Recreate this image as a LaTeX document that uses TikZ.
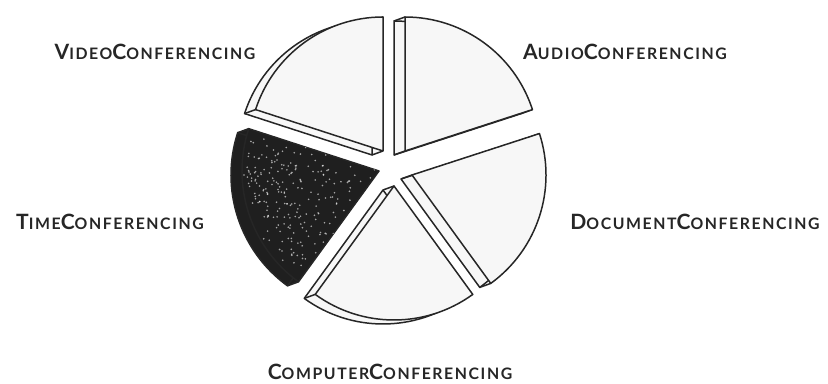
\documentclass[tikz,border=0pt]{standalone}
\usepackage{fontspec}
\setmainfont{Lato}
\usepackage{tikz}
\usetikzlibrary{positioning}

% small caps by hand: big first letter, rest smaller
\newcommand{\capword}[2]{{\fontsize{12}{13}\selectfont #1}{\fontsize{9}{11}\selectfont #2}}

% one slab of the pie: apex x, apex y, start angle, end angle, radius, style
\newcommand{\pieslice}[6]{%
    \foreach \t in {1,0.9,...,0}{
        \fill[#6, draw=none, shift={({-11*\t},{-4*\t})}] (#1,#2) -- ++(#3:#5)
            arc[start angle=#3, end angle=#4, radius=#5] -- cycle;
    }
    \draw[outline, shift={(-11,-4)}] (#1,#2) -- ++(#3:#5)
        arc[start angle=#3, end angle=#4, radius=#5] -- cycle;
    \draw[outline] (#1,#2) -- ++(-11,-4);
    \draw[outline] (#1,#2) ++(#3:#5) -- ++(-11,-4);
    \draw[outline] (#1,#2) ++(#4:#5) -- ++(-11,-4);
    \draw[#6] (#1,#2) -- ++(#3:#5)
        arc[start angle=#3, end angle=#4, radius=#5] -- cycle;
}

\begin{document}
\begin{tikzpicture}[
    x=0.02cm,
    y=0.02cm,
    line join=round,
    outline/.style={draw=black!85, line width=0.85pt},
    face/.style={outline, fill=black!3},
    darkface/.style={outline, fill=black!88},
    sliceLabel/.style={font=\bfseries\addfontfeatures{LetterSpace=10}, text=black!85, inner sep=0pt}
]
\useasboundingbox (0,0) rectangle (828,384);

% Slabs (apex at the face, 72 degrees each)
\pieslice{405}{233}{18}{90}{134}{face}
\pieslice{383}{233}{90}{162}{134}{face}
\pieslice{379}{213}{162}{234}{137}{darkface}
\pieslice{394}{198}{234}{306}{134}{face}
\pieslice{412}{209}{-54}{18}{134}{face}

% speckles on the dark slab
\begin{scope}[shift={(379,213)}]
    \clip (0,0) -- (162:137) arc[start angle=162, end angle=234, radius=137] -- cycle;
    \pgfmathsetseed{7}
    \foreach \i in {1,...,260}{
        \fill[white, opacity=0.6] ({162+72*rnd}:{137*sqrt(rnd)}) circle (0.9);
    }
\end{scope}

% Labels
\node[sliceLabel] (video) at (155,332) {\capword{V}{IDEO}\capword{C}{ONFERENCING}};
\node[sliceLabel] (audio) at (625,332) {\capword{A}{UDIO}\capword{C}{ONFERENCING}};
\node[sliceLabel] (time) at (110,162) {\capword{T}{IME}\capword{C}{ONFERENCING}};
\node[sliceLabel] (document) at (695,162) {\capword{D}{OCUMENT}\capword{C}{ONFERENCING}};
\node[sliceLabel] (computer) at (390,12) {\capword{C}{OMPUTER}\capword{C}{ONFERENCING}};

\end{tikzpicture}
\end{document}
